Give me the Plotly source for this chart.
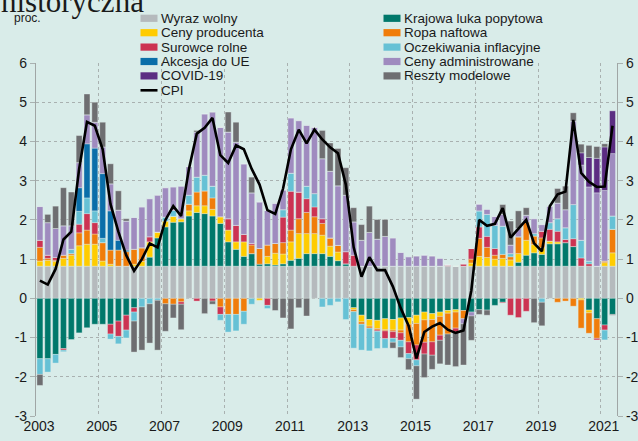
import plotly.graph_objects as go

# ---------------- data (quarterly, 2003Q1 .. 2021Q2) ----------------
years = [2003 + (i + 0.5) / 4 for i in range(74)]

wyraz_wolny = [0.82] * 74
krajowa_luka = [-1.54, -1.54, -1.43, -1.28, -1.05, -0.88, -0.75, -0.66, -0.66, -0.66,
                -0.58, -0.43, -0.24, 0.0, 0.23, 0.72, 1.0, 1.12, 1.13, 1.28,
                1.37, 1.34, 1.28, 1.09, 0.62, 0.43, 0.25, 0.32, 0.05, 0.06,
                0.03, 0.06, 0.15, 0.2, 0.32, 0.32, 0.32, 0.25, 0.14, 0.06,
                -0.24, -0.43, -0.54, -0.56, -0.52, -0.54, -0.5, -0.49, -0.43, -0.35,
                -0.39, -0.35, -0.31, -0.29, -0.31, -0.35, -0.29, -0.3, -0.18, -0.1,
                0.0, 0.1, 0.28, 0.34, 0.3, 0.57, 0.57, 0.6, 0.5, 0.0,
                -0.3, -0.52, -0.68, -0.41]
ceny_producenta = [0.13, 0.15, 0.12, 0.2, 0.28, 0.52, 0.56, 0.56, 0.13, 0.05,
                   0.0, 0.0, 0.05, 0.12, 0.39, 0.15, 0.15, 0.15, 0.08, 0.13,
                   0.17, 0.2, 0.17, 0.17, 0.3, 0.19, 0.37, 0.0, -0.05, 0.19,
                   0.3, 0.25, 0.47, 0.63, 0.51, 0.51, 0.47, 0.26, 0.22, 0.0,
                   -0.05, -0.17, -0.17, -0.21, -0.28, -0.27, -0.31, -0.17, -0.21, -0.2,
                   -0.15, -0.11, -0.07, -0.06, 0.0, 0.08, 0.25, 0.22, 0.18, 0.2,
                   0.16, 0.22, 0.38, 0.21, 0.17, 0.07, 0.05, 0.0, 0.0, -0.04,
                   -0.07, 0.0, 0.09, 0.34]
ropa_naftowa = [0.35, 0.05, 0.03, 0.08, 0.04, 0.33, 0.36, 0.26, 0.47, 0.36,
                0.41, 0.37, 0.38, 0.35, 0.0, 0.0, -0.14, -0.15, -0.09, 0.17,
                0.35, 0.38, 0.29, -0.22, -0.41, -0.41, -0.33, 0.22, 0.4, 0.29,
                0.25, 0.29, 0.3, 0.38, 0.54, 0.43, 0.3, 0.21, 0.17, 0.0,
                -0.05, -0.06, -0.05, -0.04, -0.03, -0.04, -0.07, -0.45, -0.55, -0.57,
                -0.57, -0.48, -0.53, -0.41, -0.21, 0.1, 0.46, 0.26, 0.1, 0.1,
                0.08, 0.43, 0.47, 0.22, 0.25, 0.0, -0.1, -0.07, -0.2, -0.72,
                -0.52, -0.5, 0.04, 0.6]
surowce_rolne = [0.18, 0.08, 0.07, -0.04, 0.0, 0.22, 0.42, 0.29, 0.0, -0.25,
                 -0.39, -0.38, -0.11, 0.0, 0.13, 0.0, 0.0, 0.0, -0.06, 0.0,
                 -0.07, 0.0, -0.07, -0.19, 0.29, 0.42, 0.19, 0.04, 0.0, -0.18,
                 0.0, 0.65, 0.99, 0.68, 0.35, 0.25, 0.12, 0.0, 0.0, 0.31,
                 0.28, 0.0, 0.0, -0.03, -0.2, -0.17, -0.19, -0.3, -0.38, -0.3,
                 -0.34, -0.13, 0.03, -0.1, 0.06, 0.27, 0.29, 0.28, 0.17, -0.02,
                 -0.43, -0.49, -0.33, 0.0, 0.17, 0.3, 0.27, 0.08, 0.2, 0.21,
                 0.06, -0.04, -0.13, 0.0]
oczekiwania = [-0.4, -0.34, -0.22, -0.04, 0.11, 0.33, 0.4, 0.3, 0.11, -0.13,
               -0.19, -0.2, -0.23, -0.22, -0.14, -0.05, 0.1, 0.15, 0.0, 0.23,
               0.38, 0.4, 0.3, -0.15, -0.45, -0.42, -0.33, -0.15, 0.0, -0.08,
               0.0, 0.19, 0.46, 0.0, 0.32, 0.34, -0.22, -0.18, -0.09, -0.54,
               -0.93, -0.66, -0.58, -0.44, -0.24, -0.1, -0.17, -0.13, -0.15, 0.0,
               0.0, 0.0, 0.0, 0.0, 0.0, 0.0, 0.41, 0.56, 0.59, 0.72,
               0.08, 0.0, 0.0, 0.06, -0.1, 0.17, 0.32, 0.3, 0.87, 0.45,
               0.07, 0.0, -0.25, 0.34]
akcesja = [0.0] * 5 + [0.6, 1.38, 1.6, 1.65, 1.0, 0.25, 0.04] + [0.0] * 62
ceny_administrowane = [0.86, 0.83, 0.74, 0.75, 0.6, 0.64, 0.74, 0.66, 0.68, 0.69,
                       0.77, 0.74, 0.81, 1.04, 0.97, 0.94, 0.75, 0.6, 0.83, 0.73,
                       1.15, 1.56, 1.89, 2.28, 2.21, 2.12, 1.8, 1.29, 1.19, 0.88,
                       1.02, 0.5, 1.41, 1.82, 1.55, 1.69, 1.53, 1.7, 1.52, 1.44,
                       0.85, 0.66, 0.86, 0.69, 0.76, 0.72, 0.35, 0.24, 0.26, 0.28,
                       0.26, 0.2, 0.0, 0.0, -0.13, -0.1, 0.17, 0.13, 0.23, 0.3,
                       0.22, 0.21, 0.17, 0.38, 0.17, 0.42, 0.4, 0.46, 2.13, 1.92,
                       1.89, 1.87, 1.8, 1.59]
covid = [0.0] * 69 + [0.31, 0.75, 0.88, 1.11, 1.09]
reszty = [-0.28, 0.21, 0.57, 0.97, 0.86, 0.69, 0.53, 0.51, 0.63, 0.51,
          0.49, 0.06, -0.79, -1.1, -1.0, -1.27, -0.7, -0.35, -0.65, 0.0,
          0.04, -0.39, -0.08, 0.0, 0.51, 0.51, 0.0, 0.4, 0.0, 0.0,
          -0.31, -0.5, -0.78, -0.24, -0.45, 0.0, 0.72, 0.72, 0.95, 0.7,
          0.36, 0.4, 0.67, 0.5, 0.43, -0.15, -0.27, -0.28, -0.85, -0.6,
          -0.36, -0.6, -0.79, -0.88, -1.05, -0.62, -0.12, -0.13, 0.0, 0.25,
          0.61, 0.45, 0.19, -0.62, -0.6, 0.0, 0.37, 0.6, 0.21, 0.22,
          0.31, 0.3, 0.08, -0.02]
cpi = [0.45, 0.35, 0.75, 1.5, 1.7, 3.3, 4.5, 4.4, 3.8, 2.4,
       1.7, 1.1, 0.7, 1.0, 1.4, 1.3, 2.0, 2.35, 2.1, 3.3,
       4.2, 4.35, 4.6, 3.65, 3.45, 3.9, 3.8, 3.3, 2.9, 2.25,
       2.15, 2.8, 3.8, 4.3, 3.95, 4.3, 4.05, 3.85, 3.7, 2.9,
       1.3, 0.55, 1.05, 0.72, 0.72, 0.3, -0.25, -0.7, -1.53, -0.86,
       -0.72, -0.63, -0.8, -0.88, -0.82, 0.2, 2.0, 1.85, 1.9, 2.3,
       1.55, 1.78, 2.0, 1.4, 1.2, 2.35, 2.65, 2.72, 4.55, 3.2,
       2.97, 2.84, 2.85, 4.4]

year_ticks = list(range(2003, 2022, 2))
y_ticks = list(range(-3, 7))

series = [
    ("Wyraz wolny", wyraz_wolny, "#b5babd"),
    ("Krajowa luka popytowa", krajowa_luka, "#00786b"),
    ("Ceny producenta", ceny_producenta, "#ffcc00"),
    ("Ropa naftowa", ropa_naftowa, "#f07d0a"),
    ("Surowce rolne", surowce_rolne, "#cc3352"),
    ("Oczekiwania inflacyjne", oczekiwania, "#66c1d5"),
    ("Akcesja do UE", akcesja, "#0a6ea9"),
    ("Ceny administrowane", ceny_administrowane, "#9f8bbf"),
    ("COVID-19", covid, "#5b2d82"),
    ("Reszty modelowe", reszty, "#6e6e71"),
]

# ---------------- figure ----------------
W, H = 638, 441
ML, MR, MT, MB = 36, 21, 63, 25
PW, PH = W - ML - MR, H - MT - MB
BG = "#d9ece9"
GRID = "#a9b1b0"
FONT = "Liberation Sans, Arial, sans-serif"


def px_x(px):
    return (px - ML) / PW


def px_y(py):
    return (H - MB - py) / PH


fig = go.Figure()
for name, vals, col in series:
    fig.add_trace(go.Bar(x=years, y=vals, name=name, width=0.19,
                         marker=dict(color=col, line=dict(color="rgba(232,243,241,0.7)", width=0.5)),
                         showlegend=False))
fig.add_trace(go.Scatter(x=years, y=cpi, name="CPI", mode="lines",
                         line=dict(color="black", width=2.6), showlegend=False))
fig.add_trace(go.Scatter(x=[years[0]], y=[None], yaxis="y2", showlegend=False,
                         hoverinfo="skip"))

tick_font = dict(family=FONT, size=14, color="#1a1a1a")
fig.update_layout(
    width=W, height=H,
    margin=dict(l=ML, r=MR, t=MT, b=MB, autoexpand=False),
    paper_bgcolor=BG, plot_bgcolor=BG,
    barmode="relative",
    showlegend=False,
    font=dict(family=FONT, size=13, color="#1a1a1a"),
    xaxis=dict(range=[2003, 2003 + PW / 31.375], tickvals=year_ticks,
               ticktext=[str(y) for y in year_ticks], ticks="", showgrid=True,
               gridcolor=GRID, griddash="3px,3px", gridwidth=1, zeroline=False,
               showline=False, tickfont=tick_font, ticklabelshift=3,
               automargin=False),
    yaxis=dict(range=[-3, 6], tickvals=y_ticks, ticktext=[str(v) for v in y_ticks],
               showgrid=True, gridcolor=GRID, griddash="3px,3px", gridwidth=1,
               zeroline=False, showline=True, linecolor="#a0a6a5", linewidth=1.2,
               ticks="outside", ticklen=5, tickcolor=GRID, tickfont=tick_font,
               automargin=False),
    yaxis2=dict(range=[-3, 6], tickvals=y_ticks, ticktext=[str(v) for v in y_ticks],
                overlaying="y", side="right", showgrid=False, zeroline=False,
                showline=True, linecolor="#a0a6a5", linewidth=1.2, ticks="outside",
                ticklen=5, tickcolor=GRID, tickfont=tick_font, automargin=False),
)

# ---------------- manual legend ----------------
annotations = []
shapes = []
left_col = ["Wyraz wolny", "Ceny producenta", "Surowce rolne", "Akcesja do UE", "COVID-19"]
right_col = ["Krajowa luka popytowa", "Ropa naftowa", "Oczekiwania inflacyjne",
             "Ceny administrowane", "Reszty modelowe"]
colors = {n: c for n, _, c in series}
row_y = [18.3 + 14.4 * k for k in range(6)]
for col_names, x0 in ((left_col, 140.5), (right_col, 383.5)):
    for k, nm in enumerate(col_names):
        yc = row_y[k]
        shapes.append(dict(type="rect", xref="paper", yref="paper",
                           x0=px_x(x0), x1=px_x(x0 + 17), y0=px_y(yc + 3.6), y1=px_y(yc - 3.6),
                           fillcolor=colors[nm], line=dict(width=0)))
        annotations.append(dict(xref="paper", yref="paper", x=px_x(x0 + 18.5), y=px_y(yc),
                                text=nm, showarrow=False, xanchor="left", yanchor="middle",
                                font=dict(family=FONT, size=13.5, color="#1a1a1a")))
# CPI entry
shapes.append(dict(type="line", xref="paper", yref="paper", x0=px_x(140.5), x1=px_x(157.5),
                   y0=px_y(row_y[5]), y1=px_y(row_y[5]), line=dict(color="black", width=2.6)))
annotations.append(dict(xref="paper", yref="paper", x=px_x(159), y=px_y(row_y[5]),
                        text="CPI", showarrow=False, xanchor="left", yanchor="middle",
                        font=dict(family=FONT, size=13.5, color="#1a1a1a")))
# unit label
annotations.append(dict(xref="paper", yref="paper", x=px_x(12), y=px_y(18),
                        text="proc.", showarrow=False, xanchor="left", yanchor="middle",
                        font=dict(family=FONT, size=12, color="#1a1a1a")))
# title, cut off at the top edge as in the reference
annotations.append(dict(xref="paper", yref="paper", x=px_x(-1), y=px_y(2),
                        text="historyczna", showarrow=False, xanchor="left", yanchor="middle",
                        font=dict(family="Liberation Serif, Times New Roman, serif", size=31,
                                  color="#1a1a1a")))
fig.update_layout(shapes=shapes, annotations=annotations)

fig.write_html("out.html", config={"displayModeBar": False},
               post_script="document.body.style.margin='0';")
